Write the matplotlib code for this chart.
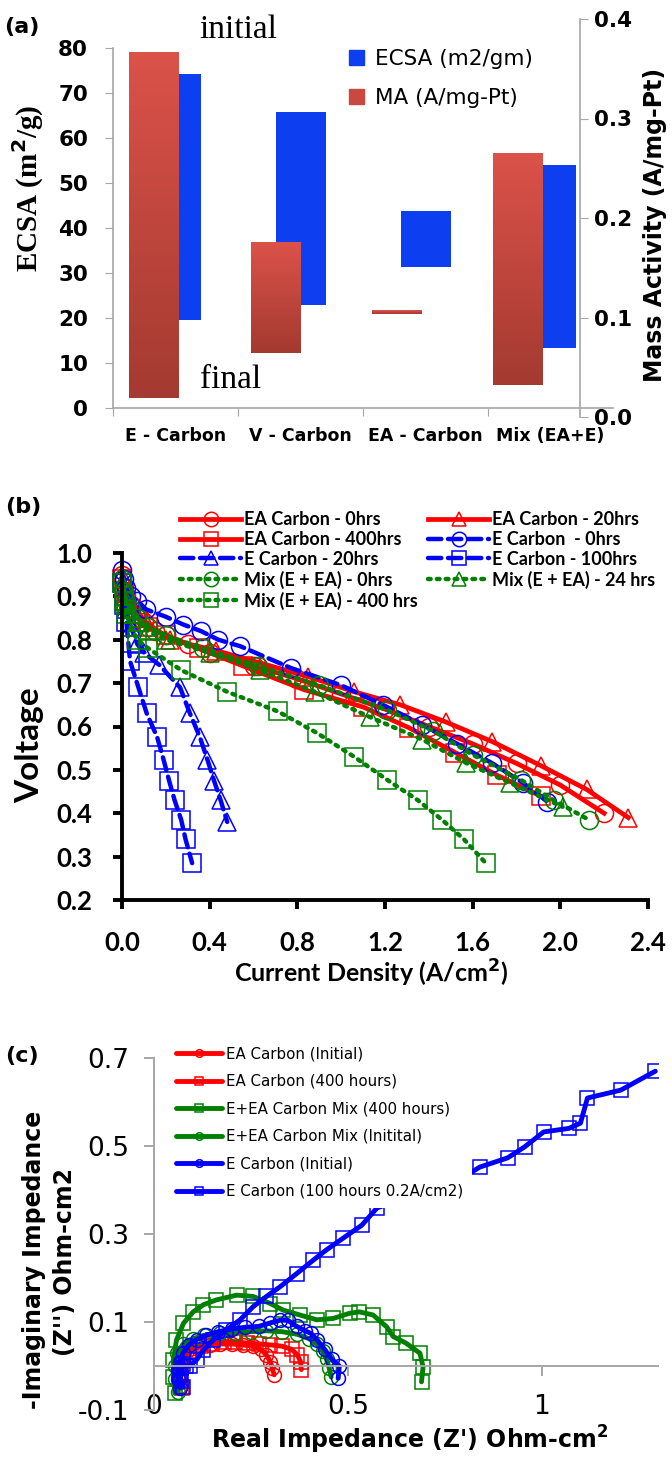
import numpy as np
import matplotlib
matplotlib.use("Agg")
import matplotlib.pyplot as plt
from matplotlib.patches import Patch
from matplotlib.colors import LinearSegmentedColormap

# ---------------- data ----------------
# (a) durability bars: each bar runs from the final to the initial value
categories = ["E - Carbon", "V - Carbon", "EA - Carbon", "Mix (EA+E)"]
ecsa_initial = [74.3, 65.7, 43.8, 54.0]
ecsa_final = [19.5, 22.8, 31.4, 13.4]
ma_initial = [0.367, 0.1755, 0.1074, 0.2658]
ma_final = [0.019, 0.0644, 0.1034, 0.0319]

# (b) polarization curves: current density (A/cm2) / voltage (V)
ea0_i = [0.0, 0.01, 0.02, 0.04, 0.06, 0.08, 0.1, 0.15, 0.2, 0.3, 0.4, 0.6, 0.8, 1.0, 1.2, 1.4, 1.6, 1.8, 2.0, 2.2]
ea0_v = [0.95, 0.92, 0.90, 0.88, 0.86, 0.85, 0.84, 0.82, 0.81, 0.79, 0.77, 0.74, 0.71, 0.675, 0.64, 0.60, 0.56, 0.515, 0.465, 0.40]
ea20_i = [0.0, 0.01, 0.02, 0.04, 0.07, 0.11, 0.22, 0.43, 0.64, 0.85, 1.06, 1.27, 1.48, 1.69, 1.91, 2.12, 2.31]
ea20_v = [0.95, 0.92, 0.90, 0.88, 0.86, 0.84, 0.80, 0.775, 0.745, 0.715, 0.68, 0.65, 0.61, 0.565, 0.51, 0.455, 0.39]
ea400_i = [0.0, 0.01, 0.02, 0.04, 0.07, 0.12, 0.2, 0.35, 0.55, 0.83, 1.10, 1.31, 1.52, 1.71, 1.91]
ea400_v = [0.94, 0.91, 0.89, 0.87, 0.85, 0.83, 0.81, 0.78, 0.74, 0.685, 0.645, 0.597, 0.54, 0.488, 0.44]
e0_i = [0.0, 0.01, 0.02, 0.04, 0.07, 0.11, 0.2, 0.28, 0.36, 0.44, 0.54, 0.77, 1.0, 1.19, 1.37, 1.53, 1.69, 1.83, 1.94]
e0_v = [0.96, 0.94, 0.92, 0.90, 0.89, 0.87, 0.853, 0.835, 0.82, 0.80, 0.785, 0.735, 0.695, 0.65, 0.604, 0.56, 0.515, 0.47, 0.427]
e20_i = [0.0, 0.01, 0.02, 0.04, 0.07, 0.10, 0.17, 0.265, 0.31, 0.355, 0.39, 0.42, 0.45, 0.48]
e20_v = [0.93, 0.90, 0.87, 0.83, 0.79, 0.77, 0.742, 0.69, 0.63, 0.576, 0.523, 0.475, 0.43, 0.38]
e100_i = [0.0, 0.01, 0.02, 0.037, 0.075, 0.113, 0.16, 0.19, 0.215, 0.24, 0.27, 0.29, 0.32]
e100_v = [0.93, 0.88, 0.84, 0.75, 0.69, 0.63, 0.576, 0.523, 0.475, 0.43, 0.385, 0.34, 0.285]
mix0_i = [0.0, 0.01, 0.02, 0.04, 0.07, 0.12, 0.2, 0.37, 0.62, 0.9, 1.21, 1.42, 1.6, 1.82, 1.97, 2.13]
mix0_v = [0.94, 0.91, 0.89, 0.87, 0.85, 0.83, 0.81, 0.78, 0.74, 0.695, 0.638, 0.59, 0.535, 0.477, 0.43, 0.385]
mix24_i = [0.0, 0.01, 0.02, 0.04, 0.07, 0.12, 0.2, 0.4, 0.63, 0.88, 1.13, 1.37, 1.57, 1.77, 2.01]
mix24_v = [0.93, 0.90, 0.88, 0.86, 0.84, 0.82, 0.80, 0.77, 0.73, 0.68, 0.622, 0.57, 0.516, 0.47, 0.415]
mix400_i = [0.0, 0.01, 0.02, 0.04, 0.07, 0.12, 0.27, 0.48, 0.71, 0.89, 1.06, 1.21, 1.35, 1.46, 1.56, 1.66]
mix400_v = [0.93, 0.89, 0.86, 0.83, 0.80, 0.78, 0.73, 0.68, 0.635, 0.585, 0.53, 0.477, 0.43, 0.385, 0.34, 0.285]

# (c) Nyquist plots: Z' / -Z'' (Ohm-cm2)
ea_init_re = [0.068, 0.063, 0.065, 0.072, 0.085, 0.10, 0.12, 0.145, 0.17, 0.20, 0.23, 0.255, 0.275, 0.29, 0.30, 0.305, 0.31]
ea_init_im = [-0.045, -0.02, 0.0, 0.02, 0.033, 0.04, 0.045, 0.048, 0.05, 0.05, 0.048, 0.045, 0.038, 0.025, 0.01, -0.005, -0.02]
ea_400_re = [0.072, 0.066, 0.068, 0.078, 0.095, 0.12, 0.15, 0.18, 0.21, 0.24, 0.27, 0.30, 0.33, 0.355, 0.37, 0.378, 0.38]
ea_400_im = [-0.05, -0.025, 0.0, 0.02, 0.035, 0.045, 0.05, 0.055, 0.055, 0.052, 0.05, 0.048, 0.045, 0.038, 0.025, 0.01, -0.008]
mix_400_re = [0.054, 0.05, 0.05, 0.058, 0.076, 0.101, 0.127, 0.16, 0.213, 0.256, 0.30, 0.333, 0.376, 0.42, 0.462, 0.505,
              0.53, 0.565, 0.60, 0.617, 0.65, 0.686, 0.694, 0.69]
mix_400_im = [-0.062, -0.024, 0.014, 0.059, 0.097, 0.123, 0.139, 0.15, 0.161, 0.158, 0.142, 0.127, 0.116, 0.105, 0.108, 0.12,
              0.123, 0.116, 0.089, 0.067, 0.052, 0.029, -0.002, -0.036]
mix_init_re = [0.063, 0.055, 0.055, 0.06, 0.075, 0.10, 0.13, 0.17, 0.21, 0.25, 0.29, 0.33, 0.37, 0.40, 0.42, 0.435, 0.445,
               0.452, 0.457]
mix_init_im = [-0.06, -0.03, 0.0, 0.03, 0.05, 0.062, 0.07, 0.074, 0.076, 0.078, 0.08, 0.078, 0.072, 0.062, 0.05, 0.033, 0.015,
               -0.005, -0.025]
e_init_re = [0.068, 0.062, 0.062, 0.066, 0.075, 0.09, 0.11, 0.135, 0.165, 0.20, 0.235, 0.27, 0.30, 0.325, 0.345, 0.368, 0.39,
             0.405, 0.42, 0.44, 0.458, 0.478, 0.475]
e_init_im = [-0.05, -0.03, -0.01, 0.01, 0.03, 0.048, 0.06, 0.07, 0.078, 0.084, 0.088, 0.09, 0.098, 0.104, 0.104, 0.09, 0.08,
             0.074, 0.06, 0.038, 0.016, 0.0, -0.028]
e_100_re = [0.076, 0.07, 0.068, 0.07, 0.075, 0.082, 0.093, 0.11, 0.127, 0.153, 0.187, 0.222, 0.256, 0.29, 0.325, 0.368, 0.41,
            0.445, 0.487, 0.536, 0.575, 0.64, 0.72, 0.80, 0.84, 0.912, 0.956, 1.005, 1.07, 1.10, 1.118, 1.204, 1.293]
e_100_im = [-0.047, -0.035, -0.02, -0.005, 0.005, 0.0, 0.0, 0.014, 0.036, 0.059, 0.082, 0.105, 0.135, 0.158, 0.18, 0.21, 0.24,
            0.264, 0.29, 0.32, 0.359, 0.38, 0.41, 0.43, 0.452, 0.473, 0.498, 0.532, 0.54, 0.552, 0.609, 0.627, 0.67]

# ---------------- layout helpers ----------------
W, H = 672, 1461
GREY = "#a6a6a6"
BAR_BLUE = "#0d3ef0"
RED, BLUE, GREEN = "#ff0000", "#0000ff", "#008000"


def box(left, top, right, bottom):
    """Pixel box -> figure fraction rectangle."""
    return [left / W, 1 - bottom / H, (right - left) / W, (bottom - top) / H]


def ftext(x, y, s, **kw):
    fig.text(x / W, 1 - y / H, s, ha="center", va="center", **kw)


fig = plt.figure(figsize=(W / 100, H / 100), dpi=100)

# ================= (a) =================
pos = np.arange(len(categories)) + 0.5
ma_offset = [-0.17, -0.20, -0.23, -0.26]

ax_a = fig.add_axes(box(113, 48, 613, 408))
ax_a.set_xlim(0, 4)
ax_a.set_ylim(0, 80)
ax_a.bar(pos, np.array(ecsa_initial) - np.array(ecsa_final), bottom=ecsa_final,
         width=0.4, color=BAR_BLUE, zorder=2)
for s in ["top", "right"]:
    ax_a.spines[s].set_visible(False)
for s in ["left", "bottom"]:
    ax_a.spines[s].set_color(GREY)
    ax_a.spines[s].set_linewidth(1.2)
ax_a.set_yticks(range(0, 81, 10))
ax_a.tick_params(axis="y", direction="out", length=6, color=GREY, labelsize=15.5, pad=12)
for lab in ax_a.get_yticklabels():
    lab.set_fontweight("bold")
ax_a.set_xticks([0, 1, 2, 3])
ax_a.set_xticklabels([])
ax_a.tick_params(axis="x", which="major", direction="out", length=6, color=GREY)
ax_a.set_xticks(pos, minor=True)
ax_a.set_xticklabels(categories, minor=True, fontsize=12.5, fontweight="bold")
ax_a.tick_params(axis="x", which="minor", length=0, pad=14)

ax_ma = fig.add_axes(box(113, 19, 613, 417))
ax_ma.patch.set_visible(False)
for s in ["top", "left", "bottom"]:
    ax_ma.spines[s].set_visible(False)
ax_ma.spines["right"].set_position(("axes", (580 - 113) / 500))
ax_ma.spines["right"].set_color(GREY)
ax_ma.spines["right"].set_linewidth(1.2)
ax_ma.xaxis.set_visible(False)
ax_ma.yaxis.tick_right()
ax_ma.set_yticks([0.0, 0.1, 0.2, 0.3, 0.4])
ax_ma.set_yticklabels(["0.0", "0.1", "0.2", "0.3", "0.4"], fontsize=15.5, fontweight="bold")
ax_ma.tick_params(axis="y", direction="out", length=6, color=GREY, pad=4)

red_cmap = LinearSegmentedColormap.from_list("redgrad", ["#a43a31", "#db5249"])
grad = np.linspace(1, 0, 64).reshape(-1, 1)
bars = ax_ma.bar(pos + np.array(ma_offset), np.array(ma_initial) - np.array(ma_final),
                 bottom=ma_final, width=0.4, color="#c9483f", zorder=3)
for b in bars:
    im = ax_ma.imshow(grad, cmap=red_cmap, aspect="auto", origin="upper", zorder=3.5,
                      extent=(b.get_x(), b.get_x() + b.get_width(), b.get_y(), b.get_y() + b.get_height()))
    im.set_clip_path(b)
ax_ma.set_xlim(0, 4)
ax_ma.set_ylim(0, 0.4)

ax_ma.legend([Patch(color=BAR_BLUE), Patch(color="#c9483f")],
             ["ECSA (m2/gm)", "MA (A/mg-Pt)"], loc="upper left",
             bbox_to_anchor=(338 / W, 1 - 38 / H), bbox_transform=fig.transFigure,
             frameon=False, fontsize=15.5, handlelength=0.7, handleheight=0.7,
             handletextpad=0.5, labelspacing=0.9, borderpad=0)

ftext(22, 27, "(a)", fontsize=16, fontweight="bold")
ftext(238, 30, "initial", fontsize=24, family="Liberation Serif")
ftext(231, 380, "final", fontsize=24, family="Liberation Serif")
ftext(28, 188, "ECSA (m$\\mathbf{^2}$/g)", fontsize=21, fontweight="bold",
      family="Liberation Serif", rotation=90)
ftext(655, 225, "Mass Activity (A/mg-Pt)", fontsize=17, fontweight="bold", rotation=90)

# ================= (b) =================
ax_b = fig.add_axes(box(122, 553, 648, 900))
ax_b.set_xlim(0, 2.4)
ax_b.set_ylim(0.2, 1.0)
for s in ["top", "right"]:
    ax_b.spines[s].set_visible(False)
for s in ["left", "bottom"]:
    ax_b.spines[s].set_linewidth(2.8)
ax_b.set_xticks(np.arange(0, 2.41, 0.4))
ax_b.set_yticks(np.arange(0.2, 1.01, 0.1))
ax_b.xaxis.set_major_formatter(matplotlib.ticker.FormatStrFormatter("%.1f"))
ax_b.yaxis.set_major_formatter(matplotlib.ticker.FormatStrFormatter("%.1f"))
ax_b.tick_params(axis="both", direction="out", length=6.5, width=2.8, labelsize=18.5)
ax_b.tick_params(axis="x", pad=16)
ax_b.tick_params(axis="y", pad=15)
for lab in ax_b.get_xticklabels() + ax_b.get_yticklabels():
    lab.set_fontweight("bold")
    lab.set_family("Lato")

series_b = [
    (ea0_i, ea0_v, RED, "-", "o", "EA Carbon - 0hrs"),
    (ea20_i, ea20_v, RED, "-", "^", "EA Carbon - 20hrs"),
    (ea400_i, ea400_v, RED, "-", "s", "EA Carbon - 400hrs"),
    (e0_i, e0_v, BLUE, (0, (3, 1.5)), "o", "E Carbon  - 0hrs"),
    (e20_i, e20_v, BLUE, (0, (3, 1.5)), "^", "E Carbon - 20hrs"),
    (e100_i, e100_v, BLUE, (0, (3, 1.5)), "s", "E Carbon - 100hrs"),
    (mix0_i, mix0_v, GREEN, (0, (0.6, 1.4)), "o", "Mix (E + EA) - 0hrs"),
    (mix24_i, mix24_v, GREEN, (0, (0.6, 1.4)), "^", "Mix (E + EA) - 24 hrs"),
    (mix400_i, mix400_v, GREEN, (0, (0.6, 1.4)), "s", "Mix (E + EA) - 400 hrs"),
]
handles_b = {}
for xs, ys, col, ls, mk, lab in series_b:
    lw = 3.4 if col == RED else 3.2
    ln, = ax_b.plot(xs, ys, color=col, linestyle=ls, linewidth=lw, marker=mk, markersize=13,
                    markerfacecolor="none", markeredgecolor=col, markeredgewidth=1.1,
                    clip_on=False, dash_capstyle="round", label=lab)
    handles_b[lab] = ln
order_b = [0, 2, 4, 6, 8, 1, 3, 5, 7]
hb = [handles_b[series_b[k][5]] for k in order_b]
ax_b.legend(hb, [h.get_label() for h in hb], ncol=2, loc="upper left",
            bbox_to_anchor=(171 / W, 1 - 502 / H), bbox_transform=fig.transFigure,
            frameon=False, prop={"family": "Lato", "weight": "bold", "size": 13},
            handlelength=3.4, handletextpad=0.15, columnspacing=0.55, labelspacing=0.16,
            borderpad=0, markerscale=0.8)

ftext(23, 507, "(b)", fontsize=16, fontweight="bold")
ftext(30, 745, "Voltage", fontsize=24, fontweight="bold", family="Lato", rotation=90)
ftext(371, 973, "Current Density (A/cm$\\mathbf{^2}$)", fontsize=18, fontweight="bold", family="Lato")

# ================= (c) =================
ax_c = fig.add_axes(box(154, 1058, 658, 1410))
ax_c.set_xlim(0, 1.3)
ax_c.set_ylim(-0.1, 0.7)
for s in ["top", "right"]:
    ax_c.spines[s].set_visible(False)
for s in ["left", "bottom"]:
    ax_c.spines[s].set_color(GREY)
    ax_c.spines[s].set_linewidth(1.4)
ax_c.spines["bottom"].set_position(("data", 0))
ax_c.set_yticks([-0.1, 0.1, 0.3, 0.5, 0.7])
ax_c.set_yticklabels(["-0.1", "0.1", "0.3", "0.5", "0.7"])
ax_c.set_xticks([0, 0.5, 1])
ax_c.set_xticklabels(["0", "0.5", "1"])
ax_c.tick_params(axis="both", direction="out", length=7, color=GREY, width=1.4, labelsize=19)
ax_c.tick_params(axis="y", pad=11)
ax_c.tick_params(axis="x", pad=13)

series_c = [
    (ea_init_re, ea_init_im, RED, "o", "EA Carbon (Initial)"),
    (ea_400_re, ea_400_im, RED, "s", "EA Carbon (400 hours)"),
    (mix_400_re, mix_400_im, GREEN, "s", "E+EA Carbon Mix (400 hours)"),
    (mix_init_re, mix_init_im, GREEN, "o", "E+EA Carbon Mix (Initital)"),
    (e_init_re, e_init_im, BLUE, "o", "E Carbon (Initial)"),
    (e_100_re, e_100_im, BLUE, "s", "E Carbon (100 hours 0.2A/cm2)"),
]
for xs, ys, col, mk, lab in series_c:
    ax_c.plot(xs, ys, color=col, linewidth=3.5, marker=mk, markersize=10,
              markerfacecolor="none", markeredgecolor=col, markeredgewidth=1.1,
              solid_capstyle="round", label=lab)
leg_c = ax_c.legend(loc="upper left", bbox_to_anchor=(159 / W, 1 - 1030 / H),
                    bbox_transform=fig.transFigure, fontsize=10.8, handlelength=3.1,
                    handletextpad=0.25, labelspacing=0.83, borderpad=0.6, markerscale=0.55,
                    frameon=True, fancybox=False, framealpha=1)
leg_c.get_frame().set_edgecolor("none")

ftext(22, 1056, "(c)", fontsize=16, fontweight="bold")
ftext(34, 1260, "-Imaginary Impedance", fontsize=17, fontweight="bold", rotation=90)
ftext(65, 1262, "(Z'') Ohm-cm2", fontsize=17, fontweight="bold", rotation=90)
ftext(410, 1440, "Real Impedance (Z') Ohm-cm$\\mathbf{^2}$", fontsize=17, fontweight="bold")

fig.savefig("out.png", dpi=100)
